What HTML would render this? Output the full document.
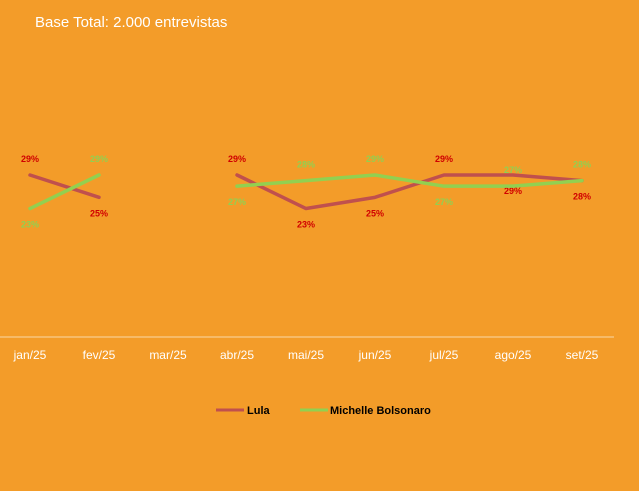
<!DOCTYPE html>
<html><head><meta charset="utf-8"><style>
body{margin:0;background:#F39C29;font-family:"Liberation Sans",sans-serif}
svg{display:block}
</style></head><body>
<svg width="639" height="491">
<rect width="639" height="491" fill="#F39C29"/>
<text x="35" y="27" fill="#fff" font-size="15">Base Total: 2.000 entrevistas</text>
<line x1="0" y1="337" x2="614" y2="337" stroke="#f8d9a8" stroke-width="1"/>
<g id="g"></g>
<g>
<g><line x1="216" y1="410" x2="244" y2="410" stroke="#C0504D" stroke-width="3"/><text x="247" y="414" font-size="11" font-weight="bold" fill="#000">Lula</text></g>
<g><line x1="300" y1="410" x2="328" y2="410" stroke="#92D050" stroke-width="3"/><text x="330" y="414" font-size="11" font-weight="bold" fill="#000">Michelle Bolsonaro</text></g>
</g>
</svg>
<script>
const categories=["jan/25","fev/25","mar/25","abr/25","mai/25","jun/25","jul/25","ago/25","set/25"];
const lula=[29,25,null,29,23,25,29,29,28];
const michelle=[23,29,null,27,28,29,27,27,28];
const lulaLabelPos=[-1,1,0,-1,1,1,-1,1,1];
const michelleLabelPos=[1,-1,0,1,-1,-1,1,-1,-1];
const NS="http://www.w3.org/2000/svg";
const g=document.getElementById('g');
function x(i){return 30+i*69;}
function y(v){return 337-v*5.586;}
function mk(t,a){const e=document.createElementNS(NS,t);for(const k in a)e.setAttribute(k,a[k]);g.appendChild(e);return e;}
categories.forEach((c,i)=>{
 const t=mk('text',{x:x(i),y:359,'text-anchor':'middle','font-size':12,fill:'#fff'});
 t.textContent=c;
 
 
});
function series(vals,color,pos,labColor,name){
 let segs=[],cur=[];
 vals.forEach((v,i)=>{if(v==null){if(cur.length)segs.push(cur);cur=[];}else cur.push([x(i),y(v)]);});
 if(cur.length)segs.push(cur);
 segs.forEach(s=>{
  const p=mk('polyline',{points:s.map(q=>q.join(',')).join(' '),fill:'none',stroke:color,'stroke-width':3.5,'stroke-linejoin':'round','stroke-linecap':'round'});
  
  
 });
 vals.forEach((v,i)=>{
  if(v==null)return;
  const t=mk('text',{x:x(i),y:y(v)+(pos[i]<0?-13:19),'text-anchor':'middle','font-size':9,'font-weight':'bold',fill:labColor});
  t.textContent=v+'%';
  
  
 });
}
series(lula,'#C0504D',lulaLabelPos,'#D00000','lula');
series(michelle,'#92D050',michelleLabelPos,'#92D050','michelle');
</script>
</body></html>
